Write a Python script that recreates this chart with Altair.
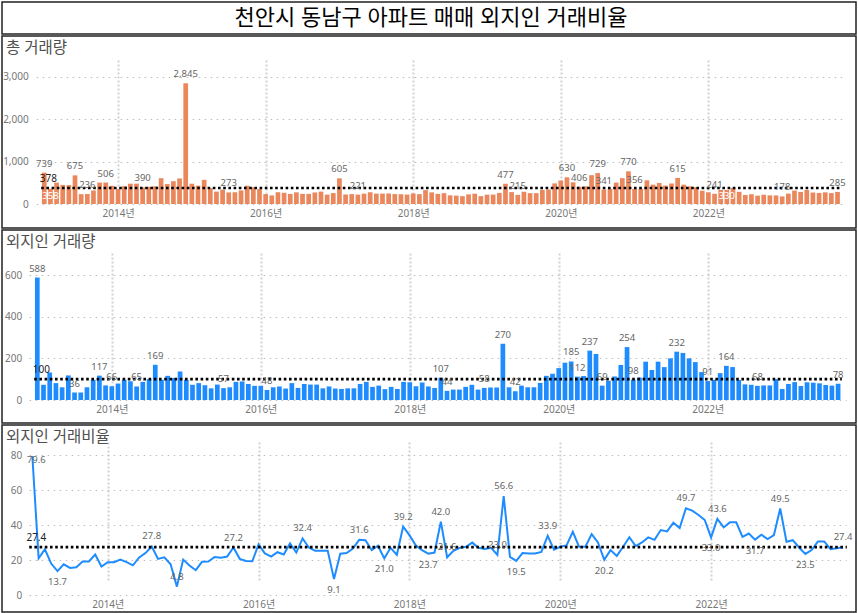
import altair as alt
import pandas as pd

FONT = "Noto Sans, Noto Sans CJK KR, sans-serif"

title_text = "천안시 동남구 아파트 매매 외지인 거래비율"
panel_titles = ["총 거래량", "외지인 거래량", "외지인 거래비율"]

months = [f"{y}-{m:02d}" for y in range(2013, 2024) for m in range(1, 13)][:130]
year_tick_idx = [12, 36, 60, 84, 108]
year_tick_labels = ["2014년", "2016년", "2018년", "2020년", "2022년"]

total = [739, 358, 504, 450, 445, 675, 232, 236, 318, 505,
         506, 429, 351, 420, 478, 479, 390, 405, 417, 608,
         469, 537, 602, 2845, 478, 432, 570, 374, 292, 339,
         273, 277, 320, 430, 395, 352, 234, 202, 277, 265,
         237, 275, 239, 238, 272, 292, 221, 257, 605, 225,
         233, 221, 244, 277, 245, 245, 248, 233, 230, 222,
         248, 232, 327, 274, 239, 255, 204, 198, 185, 228,
         243, 185, 220, 222, 261, 477, 280, 215, 288, 256,
         256, 332, 342, 485, 554, 630, 511, 406, 417, 679,
         729, 341, 358, 504, 609, 770, 356, 359, 558, 456,
         495, 434, 483, 615, 455, 414, 397, 312, 276, 241,
         333, 330, 380, 288, 213, 230, 197, 219, 204, 202,
         178, 245, 316, 285, 331, 270, 261, 275, 257, 285]

foreign = [588, 73, 132, 81, 61, 118, 36, 36, 61, 97,
           117, 70, 66, 79, 97, 90, 65, 87, 100, 169,
           97, 116, 106, 137, 97, 73, 81, 71, 56, 74,
           57, 61, 87, 89, 77, 68, 68, 48, 61, 65,
           55, 81, 58, 77, 74, 74, 56, 65, 55, 53,
           56, 56, 77, 87, 63, 69, 52, 63, 53, 87,
           85, 66, 84, 65, 58, 107, 44, 50, 50, 63,
           73, 50, 58, 60, 60, 270, 61, 42, 69, 61,
           61, 82, 116, 126, 153, 179, 185, 112, 115, 237,
           221, 69, 92, 113, 168, 254, 98, 108, 184, 144,
           184, 158, 200, 232, 226, 200, 182, 134, 91, 97,
           129, 164, 158, 96, 75, 73, 68, 70, 70, 100,
           53, 77, 86, 67, 85, 83, 80, 72, 69, 78]

ratio = [79.6, 21.0, 26.2, 18.0, 13.7, 17.6, 15.5, 15.9, 19.2, 19.2,
         23.2, 16.3, 18.8, 18.8, 20.3, 18.8, 17.0, 21.5, 24.0, 27.8,
         20.7, 21.6, 17.6, 4.8, 20.3, 16.9, 14.2, 19.0, 19.2, 21.8,
         21.3, 22.0, 27.2, 20.7, 19.5, 19.3, 29.0, 23.8, 22.0, 24.5,
         23.2, 29.5, 24.3, 32.4, 27.2, 25.3, 25.3, 25.3, 9.1, 23.6,
         24.0, 26.6, 31.6, 31.4, 25.7, 28.2, 21.0, 27.0, 23.0, 39.2,
         34.3, 28.5, 25.7, 23.7, 24.3, 42.0, 21.6, 25.3, 27.0, 27.6,
         30.0, 27.0, 26.4, 27.0, 23.0, 56.6, 21.8, 19.5, 24.0, 23.8,
         23.8, 24.7, 33.9, 26.0, 27.6, 28.4, 36.2, 27.6, 27.6, 34.9,
         30.1, 20.2, 25.7, 22.4, 27.6, 33.1, 28.0, 30.1, 33.0, 31.6,
         37.2, 36.4, 41.4, 38.3, 49.7, 48.3, 45.8, 42.9, 33.0, 43.6,
         38.7, 41.6, 41.6, 33.3, 35.2, 31.7, 34.5, 32.0, 34.3, 49.5,
         30.5, 31.4, 27.2, 23.5, 25.7, 30.7, 30.7, 26.2, 26.8, 27.4]

averages = [378, 100, 27.4]

total_label_idx = [0, 5, 7, 10, 16, 23, 30, 48, 51, 75, 77, 85, 87, 90, 91,
                   95, 96, 103, 109, 120, 129]
total_inside_idx = [1, 111]
foreign_label_idx = [0, 6, 10, 12, 16, 19, 30, 37, 65, 66, 72, 75, 77, 86, 87,
                     89, 91, 95, 96, 103, 108, 111, 116, 129]
ratio_above_idx = [19, 23, 32, 43, 52, 59, 65, 66, 74, 75, 82, 104, 109, 119, 129]
ratio_below_idx = [4, 48, 56, 63, 77, 91, 108, 115, 123]
ratio_start_idx = [0]

df = pd.DataFrame({"i": list(range(len(months))), "month": months,
                   "total": total, "foreign": foreign, "ratio": ratio})
n = len(months)

label_expr = "''"
for idx, lbl in reversed(list(zip(year_tick_idx, year_tick_labels))):
    label_expr = f"datum.value == {idx} ? '{lbl}' : ({label_expr})"

ORANGE = "#EA875C"
BLUE = "#1E8CFF"
W = 854


def make_panel(field, kind, color, title, avg, y_domain, y_range, y_values,
               y_format, x_range, height, x_off, y_off, y_pad, label_sets,
               avg_format):
    xs = alt.Scale(domain=[-0.5, n - 0.5], range=x_range, nice=False, zero=False)
    ys = alt.Scale(domain=y_domain, range=y_range, nice=False, zero=False)
    xa = alt.Axis(values=year_tick_idx, labelExpr=label_expr, grid=True,
                  gridDash=[2, 2], gridColor="#d2d2d2", gridWidth=2,
                  domain=False, ticks=False, labelColor="#777",
                  labelFontSize=10, labelFont=FONT, labelPadding=4,
                  offset=x_off, title=None, labelOverlap=False, labelFlush=False)
    ya = alt.Axis(values=y_values, format=y_format, grid=True,
                  gridDash=[1.5, 4.5], gridColor="#bdbdbd", gridWidth=1,
                  domain=False, ticks=False, labelColor="#777",
                  labelFontSize=10, labelFont=FONT, offset=y_off,
                  labelPadding=y_pad, title=None)
    X = alt.X("i:Q", scale=xs, axis=xa)
    base = alt.Chart(df)
    if kind == "bar":
        main = base.mark_bar(size=4.7, color=color).encode(
            x=X, y=alt.Y(f"{field}:Q", scale=ys, axis=ya))
    else:
        main = base.mark_line(color=color, strokeWidth=2).encode(
            x=X, y=alt.Y(f"{field}:Q", scale=ys, axis=ya))
    avg_df = pd.DataFrame({"i": [-0.5], "i2": [n - 0.4], "avg": [avg], "i0": [0]})
    rule = alt.Chart(avg_df).mark_rule(
        color="black", strokeWidth=2.6, strokeDash=[2.6, 2.6]).encode(
        x=X, x2="i2:Q", y=alt.Y("avg:Q", scale=ys, axis=ya))
    avg_lbl = alt.Chart(avg_df).mark_text(
        align="center", baseline="bottom", dx=4, dy=-4, fontSize=10,
        font=FONT, color="#222").encode(
        x=alt.X("i0:Q", scale=xs, axis=xa),
        y=alt.Y("avg:Q", scale=ys, axis=ya),
        text=alt.Text("avg:Q", format=avg_format))
    layers = [main, rule]
    for idxs, baseline, dy, dx, lcolor, fmt, pos in label_sets:
        sub = df.iloc[idxs]
        if pos == "base":
            ych = alt.Y("zero:Q", scale=ys, axis=ya)
            sub = sub.assign(zero=0)
        else:
            ych = alt.Y(f"{field}:Q", scale=ys, axis=ya)
        layers.append(alt.Chart(sub).mark_text(
            baseline=baseline, dy=dy, dx=dx, fontSize=9.5, font=FONT,
            color=lcolor).encode(x=X, y=ych,
                                 text=alt.Text(f"{field}:Q", format=fmt)))
    layers.append(avg_lbl)
    ttl = alt.Chart(pd.DataFrame({"t": [title]})).mark_text(
        align="left", baseline="middle", fontSize=15.5, font=FONT,
        color="#505050").encode(x=alt.value(4), y=alt.value(12), text="t:N")
    layers.append(ttl)
    return alt.layer(*layers).properties(width=W, height=height)


p1 = make_panel("total", "bar", ORANGE, panel_titles[0], averages[0],
                [0, 3200], [168, 32.2], [0, 1000, 2000, 3000], ",.0f",
                [34.2, 843.6], 192, -24, -34.2, 8,
                [(total_label_idx, "bottom", -4, 0, "#666", ",.0f", "top"),
                 (total_inside_idx, "bottom", -3, 0, "white", ",.0f", "base")],
                ",.0f")
p2 = make_panel("foreign", "bar", BLUE, panel_titles[1], averages[1],
                [0, 675], [170, 29.4], [0, 200, 400, 600], ",.0f",
                [27.2, 844.2], 193, -23, -27.2, 7.5,
                [(foreign_label_idx, "bottom", -4, 0, "#666", ",.0f", "top")],
                ",.0f")
p3 = make_panel("ratio", "line", BLUE, panel_titles[2], averages[2],
                [0, 80], [170, 30.3], [0, 20, 40, 60, 80], ".0f",
                [27.2, 844.2], 187, -17, -27.2, 7.5,
                [(ratio_above_idx, "bottom", -5, 0, "#666", ".1f", "top"),
                 (ratio_below_idx, "top", 6, 0, "#666", ".1f", "top"),
                 (ratio_start_idx, "top", -1, 4, "#666", ".1f", "top")],
                ".1f")

head = alt.Chart(pd.DataFrame({"t": [title_text]})).mark_text(
    fontSize=22, font=FONT, color="black", baseline="middle").encode(
    x=alt.value(429), y=alt.value(16), text="t:N").properties(width=W, height=32)

chart = alt.vconcat(head, p1, p2, p3, spacing=0).properties(
    padding={"left": 1, "top": 1, "right": 0, "bottom": 0}
).configure_view(stroke="#222", strokeWidth=1.5).configure_text(font=FONT)

chart.save("out.html", embed_options={"renderer": "svg", "actions": False})
